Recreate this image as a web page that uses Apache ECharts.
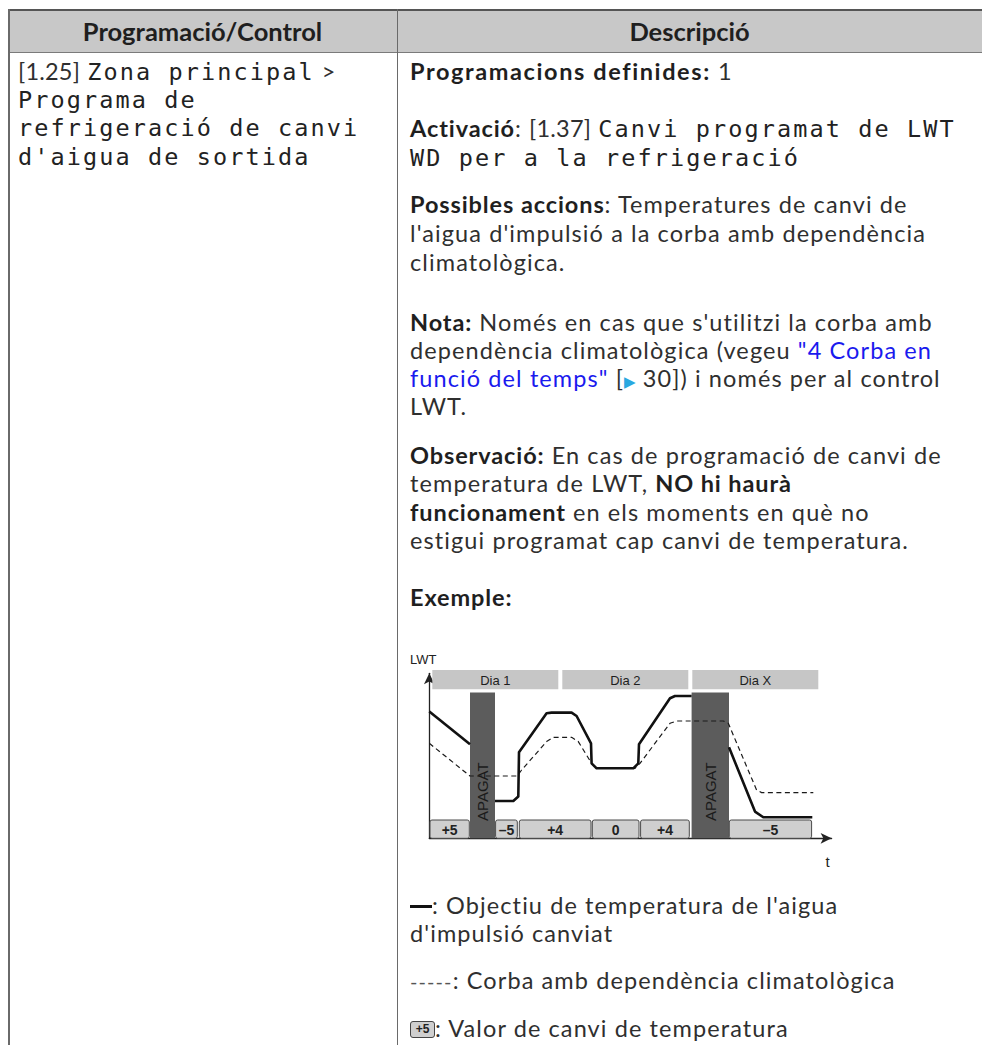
<!DOCTYPE html>
<html><head><meta charset="utf-8">
<script src="https://cdn.jsdelivr.net/npm/echarts@6/dist/echarts.min.js"></script>
<style>
html,body{margin:0;padding:0;background:#fff;}
#page{position:relative;width:982px;height:1045px;overflow:hidden;background:#fff;}
.hl{position:absolute;background:#6a6a6a;}
.t{position:absolute;font-family:Lato,'Noto Sans',sans-serif;font-size:23.5px;letter-spacing:1.1px;line-height:28px;color:#2f2f2f;white-space:nowrap;}
.t b{font-weight:700;color:#1f1f1f;letter-spacing:0.9px;}
.n{letter-spacing:0.2px;}
.m{font-family:'DejaVu Sans Mono',monospace;font-size:23.5px;letter-spacing:2.1px;color:#222;}
.lnk{color:#1a1aee;}
.tri{color:#29a9e0;font-size:15px;font-family:'DejaVu Sans',sans-serif;letter-spacing:0;}
.dash{display:inline-block;width:22px;height:3px;background:#111;vertical-align:middle;margin-bottom:4px;}
.ico{display:inline-block;width:23px;height:15px;border:1.5px solid #444;border-radius:3px;background:#cfcfcf;font:bold 12px 'Liberation Sans',Arial,sans-serif;letter-spacing:0;line-height:15px;text-align:center;color:#222;vertical-align:middle;margin-bottom:4px;}
#chart{position:absolute;left:400px;top:645px;width:440px;height:230px;}
</style></head><body><div id="page">
<div style="position:absolute;left:8px;top:9px;width:974px;height:43px;background:#c8c8c8;"></div>
<div class="hl" style="left:8px;top:9px;width:974px;height:1.5px;background:#555;"></div>
<div class="hl" style="left:8px;top:51.5px;width:974px;height:1.5px;background:#7a7a7a;"></div>
<div class="hl" style="left:8px;top:9px;width:1.5px;height:1036px;"></div>
<div class="hl" style="left:396.5px;top:9px;width:1.5px;height:1036px;"></div>

<div class="t" style="left:8px;width:389px;text-align:center;top:17px;font-weight:700;font-size:25.5px;letter-spacing:0;color:#1f1f1f;">Programació/Control</div>
<div class="t" style="left:397px;width:585px;text-align:center;top:17px;font-weight:700;font-size:25.5px;letter-spacing:0;color:#1f1f1f;">Descripció</div>

<div class="t" style="left:18px;top:57px;"><span class="n">[1.25]</span> <span class="m">Zona principal</span> &gt;</div>
<div class="t" style="left:18px;top:85px;"><span class="m">Programa de</span></div>
<div class="t" style="left:18px;top:113px;"><span class="m">refrigeració de canvi</span></div>
<div class="t" style="left:18px;top:142px;"><span class="m">d'aigua de sortida</span></div>

<div class="t" style="left:410px;top:57px;"><b style="letter-spacing:1.6px">Programacions definides:</b> 1</div>
<div class="t" style="left:410px;top:114px;"><b>Activació</b>: <span class="n">[1.37]</span> <span class="m">Canvi programat de LWT</span></div>
<div class="t" style="left:410px;top:143px;"><span class="m">WD per a la refrigeració</span></div>
<div class="t" style="left:410px;top:190px;"><b>Possibles accions</b>: Temperatures de canvi de</div>
<div class="t" style="left:410px;top:219px;">l'aigua d'impulsió a la corba amb dependència</div>
<div class="t" style="left:410px;top:248px;">climatològica.</div>
<div class="t" style="left:410px;top:308px;"><b>Nota:</b> Només en cas que s'utilitzi la corba amb</div>
<div class="t" style="left:410px;top:336px;">dependència climatològica (vegeu <span class="lnk">"4 Corba en</span></div>
<div class="t" style="left:410px;top:364px;"><span class="lnk">funció del temps"</span> [<span class="tri">▶</span> 30]) i només per al control</div>
<div class="t" style="left:410px;top:392px;">LWT.</div>
<div class="t" style="left:410px;top:441px;"><b>Observació:</b> En cas de programació de canvi de</div>
<div class="t" style="left:410px;top:469px;">temperatura de LWT, <b>NO hi haurà</b></div>
<div class="t" style="left:410px;top:498px;"><b>funcionament</b> en els moments en què no</div>
<div class="t" style="left:410px;top:526px;">estigui programat cap canvi de temperatura.</div>
<div class="t" style="left:410px;top:583px;"><b>Exemple:</b></div>

<div id="chart"></div>

<div class="t" style="left:410px;top:891px;"><span class="dash"></span>: Objectiu de temperatura de l'aigua</div>
<div class="t" style="left:410px;top:919px;">d'impulsió canviat</div>
<div class="t" style="left:410px;top:966px;"><span style="color:#555;font-size:20px;">-----</span>: Corba amb dependència climatològica</div>
<div class="t" style="left:410px;top:1014px;"><span class="ico">+5</span>: Valor de canvi de temperatura</div>
</div>
<script>
// ---- data ----
const dayLabels = ['Dia 1', 'Dia 2', 'Dia X'];
const dayStart = [3, 133, 263];
const dayEnd = [129, 259, 389];
const offLabels = ['APAGAT', 'APAGAT'];
const offStart = [40.7, 262.3];
const offEnd = [65.7, 299.7];
const shiftLabels = ['+5', '–5', '+4', '0', '+4', '–5'];
const shiftStart = [0.7, 66.3, 90, 163, 211.3, 300];
const shiftEnd = [40, 88, 161.7, 209.7, 260, 382.3];
const targetDay1 = [[0,126.7],[40.7,94]];
const targetDay2 = [[65.7,37.3],[84,37.3],[89,41.7],[89.7,86],[117.3,125],[122.3,125.7],[142.3,125.7],[147.3,122.3],[161.7,95],[162.3,75],[167.3,70],[204,70],[209,75],[209.7,94],[240.7,140],[245.7,142.3],[262.3,142.3]];
const targetDayX = [[299.7,91],[325.7,26.7],[334,21],[383,21]];
const weatherCurve = [[0,95],[40.7,62.3],[88,62.3],[92.3,68.3],[117.3,96.7],[124,101],[142.3,101],[149,96.7],[162.3,75],[167.3,70],[205.7,70],[210.7,75],[240.7,115],[247.3,117.3],[294,117.3],[299,115],[327.3,48.3],[332.3,45.7],[384,45.7]];

// ---- chart ----
const chart = echarts.init(document.getElementById('chart'), null, {renderer: 'svg'});
const FONT = "'Liberation Sans', Arial, sans-serif";
const DAY_LOW = 149, DAY_HIGH = 168.3, SHIFT_LOW = 0, SHIFT_HIGH = 18.3, OFF_HIGH = 145.7;

function bandSeries(starts, ends, labels, kind, z) {
  return {
    type: 'custom', z: z, clip: false, silent: true, animation: false,
    data: starts.map((s, i) => [s, ends[i]]),
    encode: {x: [0, 1]},
    renderItem: function (params, api) {
      const label = labels[params.dataIndex];
      const x0 = api.value(0), x1 = api.value(1);
      let lo, hi;
      if (kind === 'day') { lo = DAY_LOW; hi = DAY_HIGH; }
      else if (kind === 'off') { lo = 0; hi = OFF_HIGH; }
      else { lo = SHIFT_LOW; hi = SHIFT_HIGH; }
      const a = api.coord([x0, hi]);
      const b = api.coord([x1, lo]);
      const rect = {x: a[0], y: a[1], width: b[0] - a[0], height: b[1] - a[1]};
      if (kind === 'day') {
        return {type: 'group', children: [
          {type: 'rect', shape: rect, style: {fill: '#c6c6c6'}},
          {type: 'text', x: (a[0] + b[0]) / 2, y: (a[1] + b[1]) / 2 + 0.5,
           style: {text: label, font: '13px ' + FONT, fill: '#1e1e1e', align: 'center', verticalAlign: 'middle'}}
        ]};
      } else if (kind === 'off') {
        const c = api.coord([(x0 + x1) / 2, hi * 0.32]);
        return {type: 'group', children: [
          {type: 'rect', shape: rect, style: {fill: '#5c5c5c'}},
          {type: 'text', x: c[0], y: c[1], rotation: Math.PI / 2,
           style: {text: label, font: '15px ' + FONT, fill: '#1a1a1a', align: 'center', verticalAlign: 'middle'}}
        ]};
      } else {
        return {type: 'group', children: [
          {type: 'rect', shape: Object.assign({r: 2}, rect), style: {fill: '#cfcfcf', stroke: '#4a4a4a', lineWidth: 1}},
          {type: 'text', x: (a[0] + b[0]) / 2, y: (a[1] + b[1]) / 2 + 0.5,
           style: {text: label, font: 'bold 14px ' + FONT, fill: '#222', align: 'center', verticalAlign: 'middle'}}
        ]};
      }
    }
  };
}

function lineSeries(data, dashed, z) {
  return {
    type: 'line', data: data, symbol: 'none', z: z, silent: true, animation: false,
    lineStyle: dashed ? {color: '#1a1a1a', width: 1.2, type: [5, 3.5]} : {color: '#111', width: 2.6, cap: 'butt', join: 'round'}
  };
}

const axisCommon = {
  type: 'value', min: 0,
  axisLine: {show: true, symbol: ['none', 'arrow'], symbolSize: [8, 11], lineStyle: {color: '#222', width: 1.3}},
  axisTick: {show: false}, axisLabel: {show: false}, splitLine: {show: false}
};

chart.setOption({
  animation: false,
  grid: {left: 29.3, top: 28.3, width: 402.3, height: 165},
  xAxis: Object.assign({}, axisCommon, {max: 402.3, name: 't', nameLocation: 'end', nameGap: -4,
    nameTextStyle: {fontSize: 15, fontFamily: FONT, color: '#222', align: 'center', verticalAlign: 'top', padding: [16, 0, 0, 0]}}),
  yAxis: Object.assign({}, axisCommon, {max: 165, name: 'LWT', nameLocation: 'end', nameGap: 7,
    nameTextStyle: {fontSize: 13, fontFamily: FONT, color: '#222', align: 'center', padding: [0, 12, 0, 0]}}),
  series: [
    bandSeries(dayStart, dayEnd, dayLabels, 'day', 1),
    bandSeries(offStart, offEnd, offLabels, 'off', 2),
    bandSeries(shiftStart, shiftEnd, shiftLabels, 'shift', 3),
    lineSeries(weatherCurve, true, 4),
    lineSeries(targetDay1, false, 5),
    lineSeries(targetDay2, false, 5),
    lineSeries(targetDayX, false, 5)
  ]
});
</script>
</body></html>
